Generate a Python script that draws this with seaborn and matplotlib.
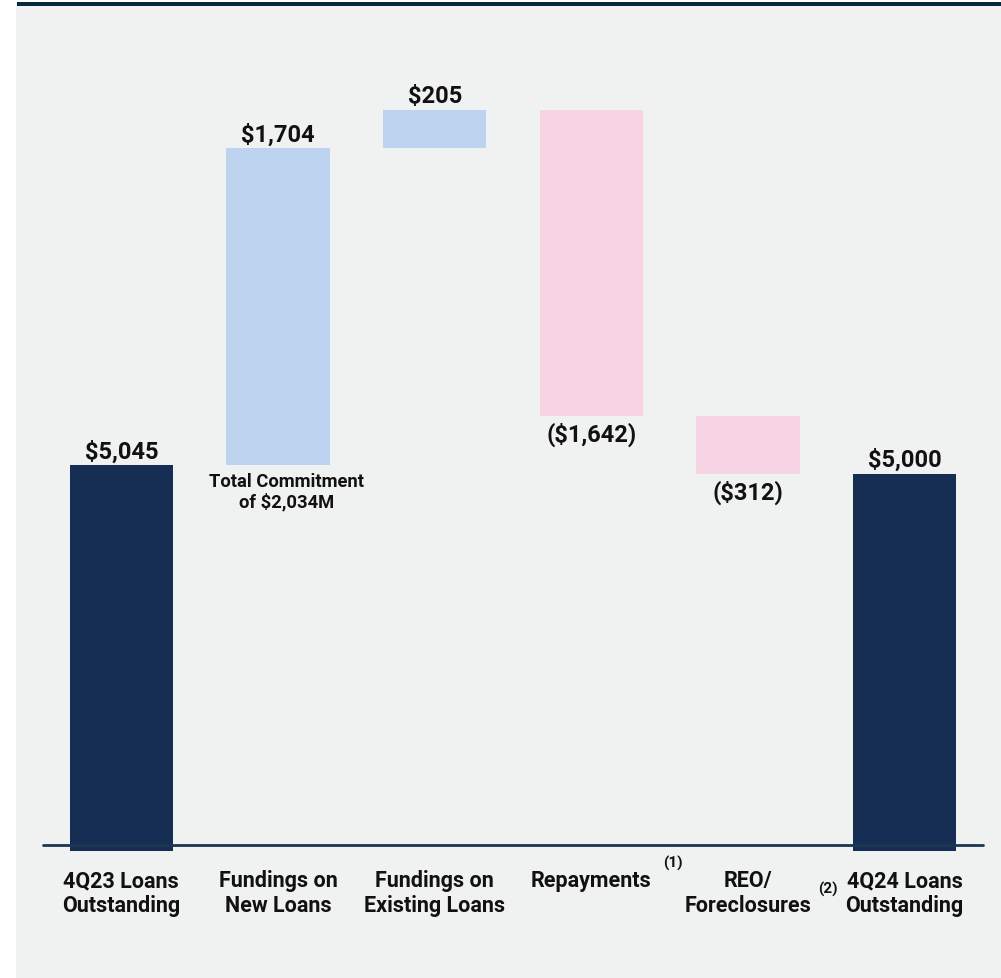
import matplotlib
matplotlib.use("Agg")
import matplotlib.pyplot as plt
import seaborn as sns
import numpy as np
import pandas as pd
from matplotlib.patches import Rectangle

# Loan portfolio roll-forward ($M)
categories = ["4Q23 Loans\nOutstanding", "Fundings on\nNew Loans", "Fundings on\nExisting Loans",
              "Repayments", "REO/\nForeclosures", "4Q24 Loans\nOutstanding"]
changes = [5045, 1704, 205, -1642, -312, 5000]
kinds = ["total", "increase", "increase", "decrease", "decrease", "total"]
value_labels = ["$5,045", "$1,704", "$205", "($1,642)", "($312)", "$5,000"]
footnotes = ["", "", "", "(1)", "(2)", ""]
commitment_note = "Total Commitment\nof $2,034M"

NAVY = "#172e54"
BLUE = "#bdd3f0"
PINK = "#f7d4e4"
BG = "#f0f1f1"
TOP_RULE = "#08283d"
TEXT = "#111111"
colors = {"total": NAVY, "increase": BLUE, "decrease": PINK}

# waterfall geometry: floating bars start where the running total left off
bottoms, tops = [], []
running = 0
for c, k in zip(changes, kinds):
    if k == "total":
        bottoms.append(0)
        tops.append(c)
        running = c
    else:
        start = running
        running = running + c
        bottoms.append(min(start, running))
        tops.append(max(start, running))
heights = [t - b for t, b in zip(tops, bottoms)]
df = pd.DataFrame({"category": categories, "height": heights, "bottom": bottoms})

sns.set_theme(style="white")
plt.rcParams["font.family"] = ["Roboto", "DejaVu Sans"]

fig = plt.figure(figsize=(10.01, 9.79), dpi=100)
fig.patch.set_facecolor("white")
fig.patches.append(Rectangle((16 / 1001, 0), 1 - 16 / 1001, 1 - 3 / 979,
                             transform=fig.transFigure, facecolor=BG, edgecolor="none", zorder=-10))
fig.patches.append(Rectangle((17 / 1001, 1 - 7 / 979), 1 - 17 / 1001, 4 / 979,
                             transform=fig.transFigure, facecolor=TOP_RULE, edgecolor="none", zorder=-9))

ax = fig.add_axes([43 / 1001, (979 - 852) / 979, 940 / 1001, 812 / 979])
ax.set_facecolor("none")

sns.barplot(data=df, x="category", y="height", bottom=df["bottom"].values,
            width=0.66, ax=ax, errorbar=None, color=NAVY, saturation=1)
for patch, k in zip(ax.patches, kinds):
    patch.set_facecolor(colors[k])
    patch.set_edgecolor("none")

y_floor, y_top = 2975, 7335
ax.set_ylim(y_floor, y_top)
ax.set_xlim(-0.5, 5.5)
ax.axhline(3005, color="#1b3552", lw=2, zorder=5, clip_on=False)

for s in ax.spines.values():
    s.set_visible(False)
ax.set_yticks([])
ax.set_xlabel("")
ax.set_ylabel("")
ax.tick_params(axis="x", length=0, pad=13)
ax.set_xticks(range(len(categories)))
ax.set_xticklabels(categories, fontsize=15.5, fontweight="bold", color=TEXT, linespacing=1.2)

# value labels
for i, (k, c, lab) in enumerate(zip(kinds, changes, value_labels)):
    if k == "decrease":
        ax.annotate(lab, (i, bottoms[i]), xytext=(0, -4), textcoords="offset points",
                    ha="center", va="top", fontsize=17, fontweight="bold", color=TEXT)
    else:
        ax.annotate(lab, (i, tops[i]), xytext=(0, 2), textcoords="offset points",
                    ha="center", va="bottom", fontsize=17, fontweight="bold", color=TEXT)

# commitment note under the new-loan fundings bar
ax.annotate(commitment_note, (1, bottoms[1]), xytext=(6, -5), textcoords="offset points",
            ha="center", va="top", fontsize=13.2, fontweight="bold", color=TEXT, linespacing=1.1)

# footnote markers beside category labels
fn_pos = {3: (673 / 1001, 1 - 863 / 979), 4: (828 / 1001, 1 - 889 / 979)}
for i, fn in enumerate(footnotes):
    if fn:
        fig.text(fn_pos[i][0], fn_pos[i][1], fn, ha="center", va="center",
                 fontsize=11, fontweight="bold", color=TEXT)

fig.savefig("out.png", dpi=100, facecolor=fig.get_facecolor())
